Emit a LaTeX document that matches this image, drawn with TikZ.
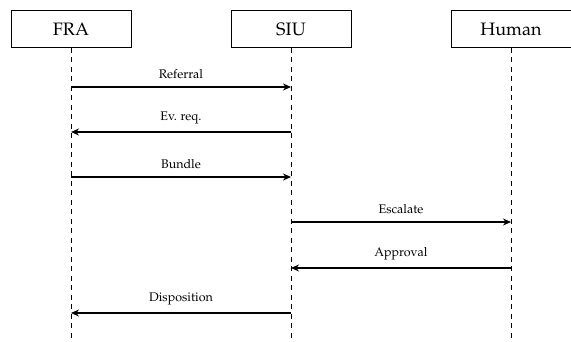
\documentclass[tikz,border=0pt]{standalone}
\usepackage[T1]{fontenc}
\usepackage{mathpazo}
\usetikzlibrary{arrows.meta}
\begin{document}
\begin{tikzpicture}[x=1pt,y=-1pt,
  actor/.style={draw,line width=0.8pt,minimum width=120pt,minimum height=37pt,inner sep=0pt,font=\fontsize{18}{20}\selectfont},
  life/.style={dash pattern=on 5pt off 4.5pt,line width=0.7pt},
  msg/.style={line width=1.6pt,-{Stealth[length=8pt,width=7pt]}},
  lbl/.style={font=\fontsize{12.5}{14}\selectfont,above=4pt,midway}]
\useasboundingbox (0,0) rectangle (571,342);
\node[actor] (fra) at (71,29) {FRA};
\node[actor] (siu) at (291,29) {SIU};
\node[actor] (hum) at (511,29) {Human};
\coordinate (fraE) at (71,342);
\coordinate (siuE) at (291,342);
\coordinate (humE) at (511,342);
\draw[life] (fra.south) -- (fraE);
\draw[life] (siu.south) -- (siuE);
\draw[life] (hum.south) -- (humE);
\foreach \n/\y in {fra/87,siu/87,fra/132,siu/132,fra/177,siu/177,siu/222,hum/222,siu/268,hum/268,fra/313,siu/313}{
  \coordinate (\n\y) at (\n.south |- 0,\y);
}
\draw[msg] (fra87) -- node[lbl] {Referral} (siu87);
\draw[msg] (siu132) -- node[lbl] {Ev. req.} (fra132);
\draw[msg] (fra177) -- node[lbl] {Bundle} (siu177);
\draw[msg] (siu222) -- node[lbl] {Escalate} (hum222);
\draw[msg] (hum268) -- node[lbl] {Approval} (siu268);
\draw[msg] (siu313) -- node[lbl] {Disposition} (fra313);
\end{tikzpicture}
\end{document}
